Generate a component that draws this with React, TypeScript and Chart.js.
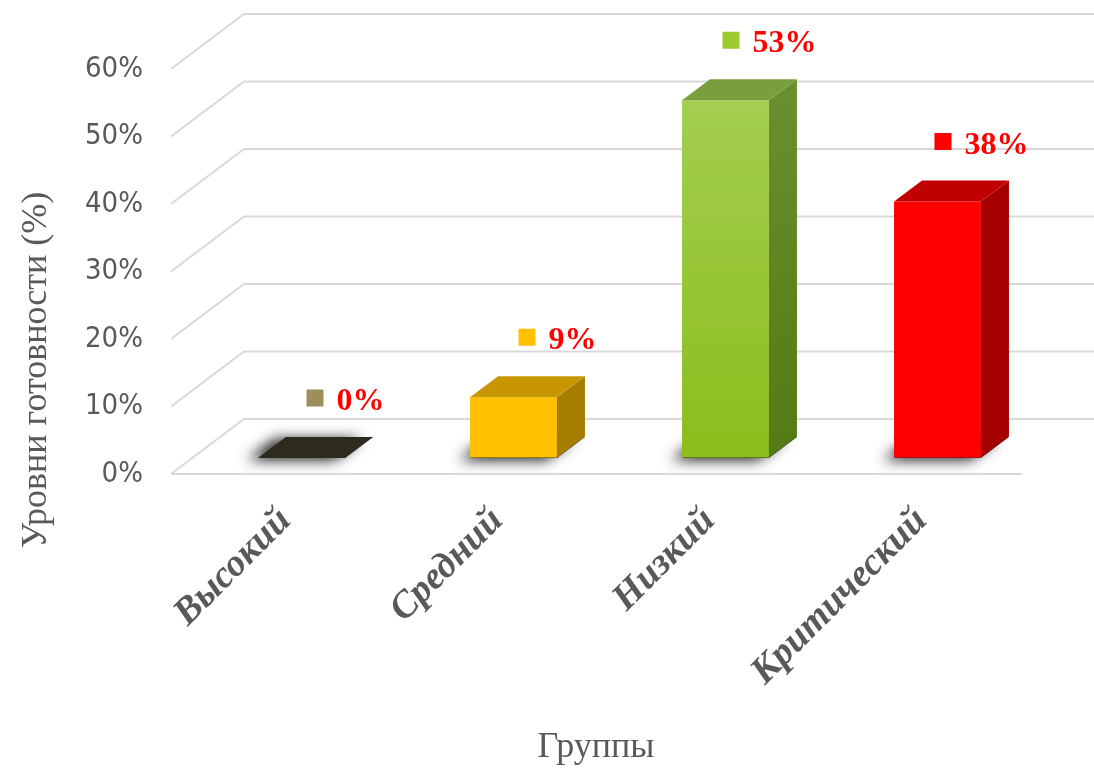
import { useEffect, useRef } from 'react';
import { Chart, registerables } from 'chart.js';

Chart.register(...registerables);

const categories = ['Высокий', 'Средний', 'Низкий', 'Критический'];
const values = [0, 9, 53, 38];
const valueLabels = ['0%', '9%', '53%', '38%'];
const yTickValues = [0, 10, 20, 30, 40, 50, 60];
const frontColors = ['#2E2A1D', '#FFC000', '#9BCB36', '#FF0000'];
const topColors = ['#2E2A1D', '#C89600', '#7A9E3C', '#C00000'];
const sideColors = ['#26221A', '#A67D00', '#5F8424', '#A50000'];
const markerColors = ['#9C8F5B', '#FFC000', '#9BCB2F', '#FF0000'];
const yTitle = 'Уровни готовности (%)';
const xTitle = 'Группы';

// 3D projection constants (pixels)
const BAR_DX = 28;
const BAR_DY = -21;
const FRONT_DY = 16;
const BACK_DY = -39;
const WALL_DX = 73;

const plugin3d = {
  id: 'bars3d',
  beforeDatasetsDraw(chart: any) {
    const { ctx, chartArea, scales } = chart;
    const y = scales.y;
    const fx = chartArea.left - 24.5;
    const bx = fx + WALL_DX;
    ctx.save();
    ctx.strokeStyle = '#D9D9D9';
    ctx.lineWidth = 2;
    yTickValues.forEach((v) => {
      const p = y.getPixelForValue(v);
      ctx.beginPath();
      ctx.moveTo(fx, p + FRONT_DY);
      ctx.lineTo(bx, p + BACK_DY);
      ctx.lineTo(chart.width, p + BACK_DY);
      ctx.stroke();
    });
    const p0 = y.getPixelForValue(0);
    ctx.beginPath();
    ctx.moveTo(fx, p0 + FRONT_DY);
    ctx.lineTo(chartArea.right - 21.5, p0 + FRONT_DY);
    ctx.stroke();

    const meta = chart.getDatasetMeta(0);
    meta.data.forEach((bar: any) => {
      const { x: cx, width } = bar.getProps(['x', 'width'], true);
      const l = cx - width / 2;
      const r = cx + width / 2;
      ctx.save();
      ctx.shadowColor = 'rgba(0,0,0,0.9)';
      ctx.shadowBlur = 14;
      ctx.shadowOffsetX = -11;
      ctx.shadowOffsetY = 2;
      ctx.fillStyle = '#333';
      ctx.beginPath();
      ctx.moveTo(l, p0);
      ctx.lineTo(r, p0);
      ctx.lineTo(r + BAR_DX, p0 + BAR_DY);
      ctx.lineTo(l + BAR_DX, p0 + BAR_DY);
      ctx.closePath();
      ctx.fill();
      ctx.restore();
    });
    ctx.restore();
  },
  afterDatasetsDraw(chart: any) {
    const { ctx } = chart;
    const meta = chart.getDatasetMeta(0);
    ctx.save();
    meta.data.forEach((bar: any, i: number) => {
      const { x: cx, y: ty, width, base } = bar.getProps(['x', 'y', 'width', 'base'], true);
      const l = cx - width / 2;
      const r = cx + width / 2;
      if (base - ty > 0.5) {
        let side: any = sideColors[i];
        if (i === 2) {
          const g = ctx.createLinearGradient(0, ty, 0, base);
          g.addColorStop(0, '#698E2E');
          g.addColorStop(1, '#547A12');
          side = g;
        }
        ctx.fillStyle = side;
        ctx.beginPath();
        ctx.moveTo(r, ty);
        ctx.lineTo(r + BAR_DX, ty + BAR_DY);
        ctx.lineTo(r + BAR_DX, base + BAR_DY);
        ctx.lineTo(r, base);
        ctx.closePath();
        ctx.fill();
      }
      ctx.fillStyle = topColors[i];
      ctx.beginPath();
      ctx.moveTo(l, ty);
      ctx.lineTo(r, ty);
      ctx.lineTo(r + BAR_DX, ty + BAR_DY);
      ctx.lineTo(l + BAR_DX, ty + BAR_DY);
      ctx.closePath();
      ctx.fill();

      // data label with marker
      ctx.font = 'bold 32px "Liberation Serif", "Times New Roman", serif';
      const tw = ctx.measureText(valueLabels[i]).width;
      const sq = 17;
      const gap = 13;
      const total = sq + gap + tw;
      const gx = cx + 44 - total / 2;
      const cy = ty + BAR_DY - 38;
      ctx.fillStyle = markerColors[i];
      ctx.fillRect(gx, cy - sq / 2 - 1, sq, sq);
      ctx.fillStyle = '#FF0000';
      ctx.textAlign = 'left';
      ctx.textBaseline = 'alphabetic';
      ctx.fillText(valueLabels[i], gx + sq + gap, cy + 11);
    });
    ctx.restore();
  },
  afterDraw(chart: any) {
    const { ctx } = chart;
    ctx.save();
    ctx.fillStyle = '#595959';
    ctx.font = '36px "Liberation Serif", "Times New Roman", serif';
    ctx.textAlign = 'center';
    ctx.textBaseline = 'middle';
    ctx.fillText(xTitle, 596, 748);
    ctx.translate(37, 370);
    ctx.rotate(-Math.PI / 2);
    ctx.fillText(yTitle, 0, 0);
    ctx.restore();
  },
};

export default function App() {
  const canvasRef = useRef<HTMLCanvasElement | null>(null);

  useEffect(() => {
    const canvas = canvasRef.current;
    if (!canvas) return;
    const chart = new Chart(canvas, {
      type: 'bar',
      data: {
        labels: categories,
        datasets: [
          {
            data: values,
            backgroundColor: (c: any) => {
              const i = c.dataIndex;
              if (i === 2 && c.chart.chartArea) {
                const y = c.chart.scales.y;
                const g = c.chart.ctx.createLinearGradient(0, y.getPixelForValue(values[2]), 0, y.getPixelForValue(0));
                g.addColorStop(0, '#A3CE50');
                g.addColorStop(1, '#8BBD1B');
                return g;
              }
              return frontColors[i];
            },
            borderWidth: 0,
            categoryPercentage: 1,
            barPercentage: 0.41,
          },
        ],
      },
      options: {
        responsive: false,
        maintainAspectRatio: false,
        animation: false,
        devicePixelRatio: 1,
        layout: { padding: { top: 53, right: 50.5, bottom: 0, left: 0 } },
        plugins: {
          legend: { display: false },
          tooltip: { enabled: false },
          title: { display: false },
        },
        scales: {
          x: {
            grid: { display: true, drawOnChartArea: false, drawTicks: true, tickLength: 41, color: 'rgba(0,0,0,0)' },
            border: { display: false },
            ticks: {
              autoSkip: false,
              minRotation: 45,
              maxRotation: 45,
              padding: 0,
              labelOffset: -16,
              color: '#595959',
              font: { family: '"Liberation Serif", "Times New Roman", serif', size: 38, style: 'italic', weight: 'bold' },
            },
            afterFit: (s: any) => {
              s.height = 318;
            },
          },
          y: {
            min: 0,
            max: 60,
            grid: { display: true, drawOnChartArea: false, drawTicks: true, tickLength: 52, color: 'rgba(0,0,0,0)' },
            border: { display: false },
            ticks: {
              stepSize: 10,
              padding: 0.5,
              labelOffset: FRONT_DY,
              color: '#595959',
              font: { family: '"Liberation Sans Narrow", "DejaVu Sans Condensed", Lato, sans-serif', size: 29 },
              callback: (v: any) => `${v}%`,
            },
            afterFit: (s: any) => {
              s.width = 195.5;
            },
          },
        },
      },
      plugins: [plugin3d],
    } as any);
    return () => chart.destroy();
  }, []);

  return (
    <div style={{ position: 'absolute', left: 0, top: 0, width: 1094, height: 776, background: '#fff' }}>
      <canvas ref={canvasRef} width={1094} height={776} />
    </div>
  );
}
